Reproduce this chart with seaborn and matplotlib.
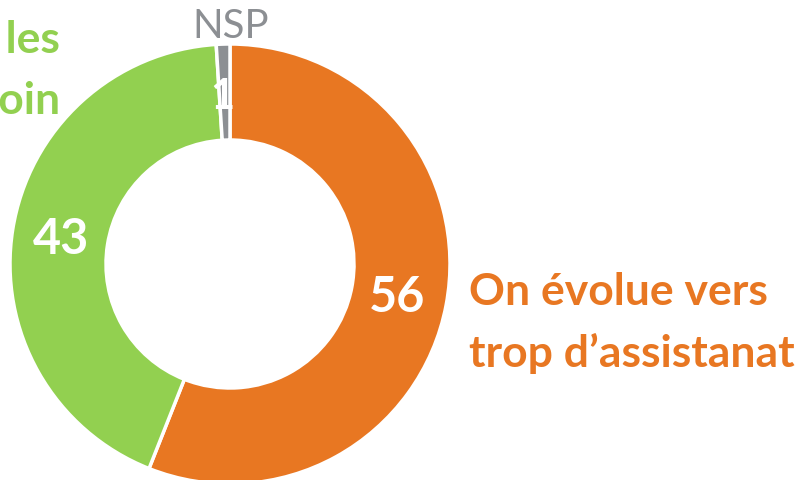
import matplotlib
matplotlib.use("Agg")
import matplotlib.pyplot as plt
import seaborn as sns

sns.set_theme(style="white")
plt.rcParams['font.family'] = ['Lato', 'DejaVu Sans']

categories = ["On évolue vers\ntrop d’assistanat", "On n’aide pas assez les\ngens dans le besoin", "NSP"]
values = [56, 43, 1]
colors = ["#E87722", "#92D050", "#8C8F93"]

fig = plt.figure(figsize=(8.05, 4.81), dpi=100)
ax = fig.add_axes([0, 0, 1, 1])

cx, cy, R = 230, 481 - 265, 220
wedges, _ = ax.pie(values, colors=colors, startangle=90, counterclock=False,
                   center=(cx, cy), radius=R, frame=True,
                   wedgeprops=dict(width=R - 124, edgecolor="white", linewidth=2.5))
ax.set_xlim(0, 805)
ax.set_ylim(0, 481)
ax.set_aspect("auto")
ax.axis("off")

# value labels
ax.text(397, 481 - 298, str(values[0]), color="white", fontsize=35, fontweight="bold",
        ha="center", va="center")
ax.text(61, 481 - 240, str(values[1]), color="white", fontsize=35, fontweight="bold",
        ha="center", va="center")
ax.text(222, 481 - 97, str(values[2]), color="white", fontsize=30, fontweight="bold",
        ha="center", va="center")

# category labels
ax.text(469, 481 - 323, categories[0], color=colors[0], fontsize=32, fontweight="bold",
        ha="left", va="center", linespacing=1.6)
ax.text(60, 481 - 70, categories[1], color=colors[1], fontsize=32, fontweight="bold",
        ha="right", va="center", linespacing=1.6)
ax.text(231, 481 - 26, categories[2], color=colors[2], fontsize=29,
        ha="center", va="center")

fig.savefig("out.png", dpi=100)
